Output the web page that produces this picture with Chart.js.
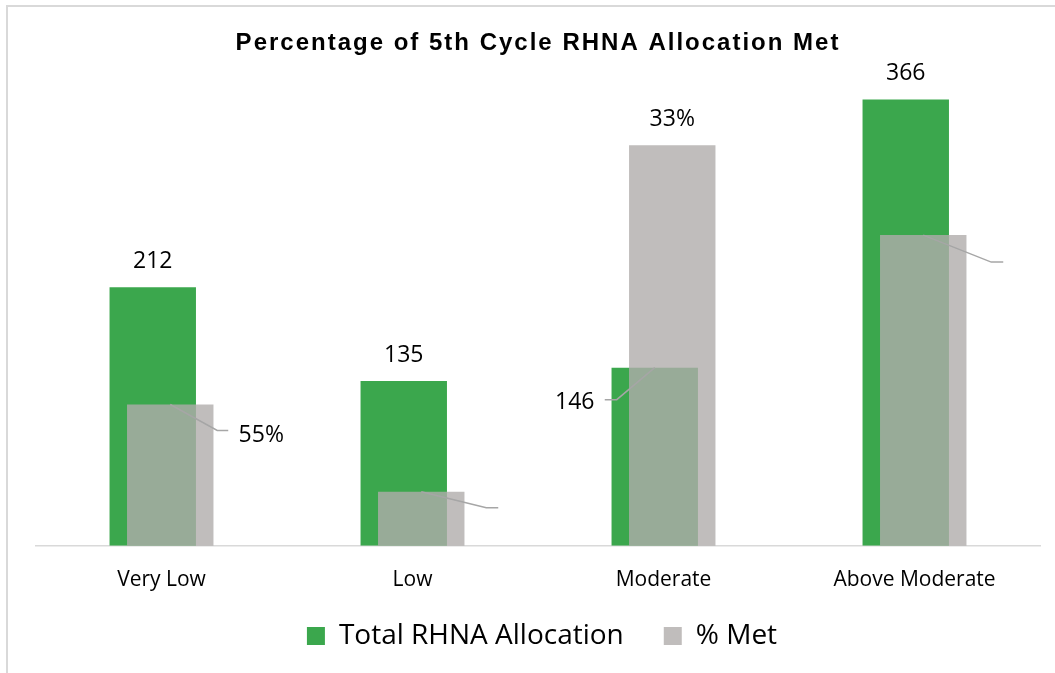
<!DOCTYPE html>
<html><head><meta charset="utf-8">
<script src="https://cdn.jsdelivr.net/npm/chart.js@4/dist/chart.umd.min.js"></script>
<style>
html,body{margin:0;padding:0;background:#fff;overflow:hidden;width:1055px;height:673px;}
#frame{position:absolute;left:6px;top:5px;width:1100px;height:720px;border-left:2px solid #d9d9d9;border-top:2px solid #d9d9d9;}
#wrap{position:absolute;left:0;top:0;width:1055px;height:673px;}
</style></head><body>
<div id="frame"></div>
<div id="wrap"><canvas id="c" width="1055" height="673"></canvas></div>
<script>
// ---- data ----
const chartTitle = 'Percentage of 5th Cycle RHNA Allocation Met';
const categories = ['Very Low', 'Low', 'Moderate', 'Above Moderate'];
const seriesNames = ['Total RHNA Allocation', '% Met'];
const totalAllocation = [212, 135, 146, 366];
const percentMet = [55, 21, 156, 121];
const percentMetLabels = ['55%', '', '33%', ''];

// ---- label placement (style, relative to bar top centre) ----
const labelFont = '23px "Open Sans"';
const greenLabelPos = [
  {dx: 0, dy: -19},
  {dx: 0, dy: -19},
  {dx: -80, dy: 41, leader: [[0, 0], [-38, 32], [-50, 32]]},
  {dx: 0, dy: -19}
];
const greyLabelPos = [
  {dx: 91, dy: 37, leader: [[0, 0], [47, 26], [58, 26]]},
  {dx: 0, dy: 0, leader: [[0, 0], [65, 16], [77, 16]]},
  {dx: 0, dy: -19},
  {dx: 0, dy: 0, leader: [[0, 0], [68, 27], [80, 27]]}
];

const overlayPlugin = {
  id: 'overlay',
  afterInit(chart) {
    const tb = chart.titleBlock;
    if (tb && !tb.$spaced) {
      const orig = tb.draw.bind(tb);
      tb.draw = function () {
        const ctx = chart.ctx;
        ctx.save();
        ctx.letterSpacing = '2px';
        orig();
        ctx.restore();
      };
      tb.$spaced = true;
    }
  },
  afterLayout(chart) {
    const lg = chart.legend;
    if (lg) { lg.top -= 10.6; lg.bottom -= 10.6; lg.left += 4; lg.right += 4; }
  },
  beforeDatasetDraw(chart, args) {
    if (args.index === 1) return false;
  },
  afterDatasetsDraw(chart) {
    const ctx = chart.ctx;
    ctx.save();
    chart.getDatasetMeta(1).controller.draw();
    ctx.restore();
    const drawSet = (meta, texts, pos) => {
      meta.data.forEach((bar, i) => {
        const p = pos[i];
        if (p.leader) {
          ctx.save();
          ctx.strokeStyle = '#a6a6a6';
          ctx.lineWidth = 1.5;
          ctx.beginPath();
          p.leader.forEach((pt, k) => {
            if (k === 0) ctx.moveTo(bar.x + pt[0], bar.y + pt[1]);
            else ctx.lineTo(bar.x + pt[0], bar.y + pt[1]);
          });
          ctx.stroke();
          ctx.restore();
        }
        if (texts[i]) {
          ctx.save();
          ctx.font = labelFont;
          ctx.fillStyle = '#000';
          ctx.textAlign = 'center';
          ctx.textBaseline = 'alphabetic';
          ctx.fillText(texts[i], bar.x + p.dx, bar.y + p.dy);
          ctx.restore();
        }
      });
    };
    drawSet(chart.getDatasetMeta(0), totalAllocation.map(v => String(v)), greenLabelPos);
    drawSet(chart.getDatasetMeta(1), percentMetLabels, greyLabelPos);
  }
};

new Chart(document.getElementById('c'), {
  type: 'bar',
  data: {
    labels: categories,
    datasets: [
      {label: seriesNames[0], data: totalAllocation, backgroundColor: '#3ba74d', yAxisID: 'y',
       categoryPercentage: 0.1394, barPercentage: 4.94},
      {label: seriesNames[1], data: percentMet, backgroundColor: 'rgba(176,172,171,0.8)', yAxisID: 'y1',
       categoryPercentage: 0.1394, barPercentage: 4.94}
    ]
  },
  options: {
    responsive: false,
    animation: false,
    devicePixelRatio: 1,
    layout: {padding: {left: 36, right: 15, top: 0, bottom: 2.4}},
    scales: {
      x: {
        grid: {display: false, drawTicks: false},
        border: {color: '#d9d9d9', width: 1.5},
        ticks: {font: {family: 'Open Sans', size: 21}, color: '#000', padding: 21.7},
        afterFit(scale) { scale.height = 46.9; }
      },
      y: {display: false, min: 0, max: 400},
      y1: {display: false, min: 0, max: 190}
    },
    plugins: {
      title: {display: true, text: chartTitle, color: '#000',
        font: {family: 'Liberation Sans', weight: 'bold', size: 24}, padding: {top: 28.6, bottom: 0.6}},
      legend: {position: 'bottom',
        labels: {font: {family: 'Open Sans', size: 28}, color: '#000', boxWidth: 18, boxHeight: 18, padding: 40}},
      tooltip: {enabled: false}
    }
  },
  plugins: [overlayPlugin]
});
</script>
</body></html>
